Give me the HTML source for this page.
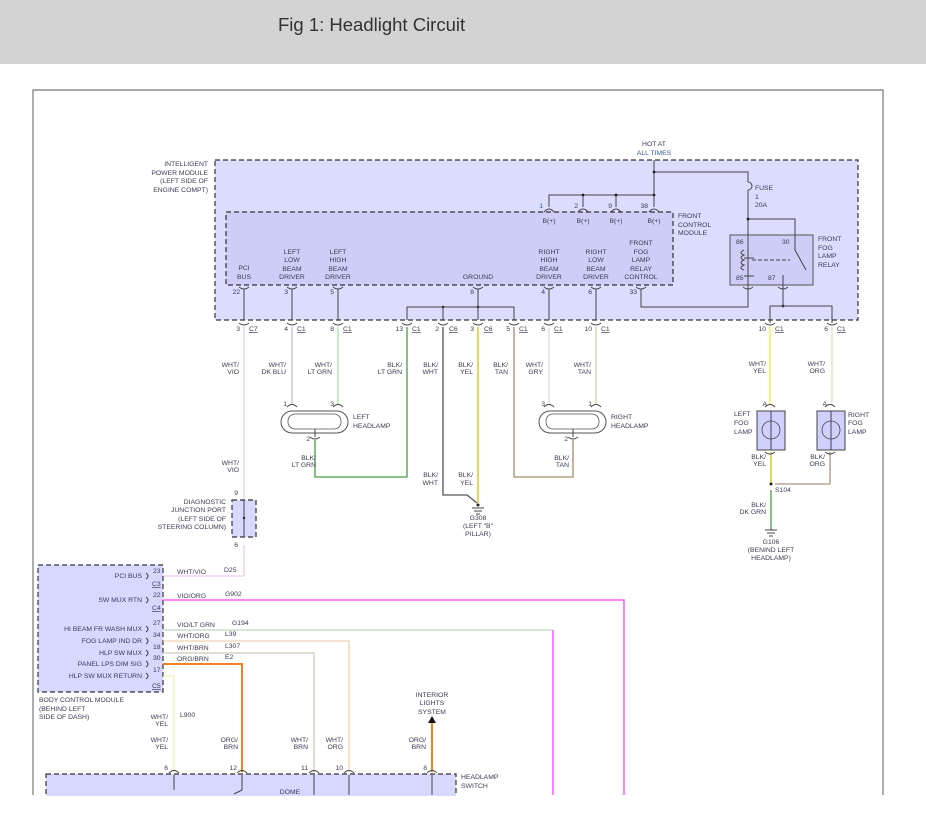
<!DOCTYPE html>
<html><head><meta charset="utf-8"><style>
html,body{margin:0;padding:0;background:#fff;width:926px;height:825px;overflow:hidden}
svg{display:block}
text{font-family:"Liberation Sans",sans-serif;font-size:6.8px;fill:#3a3a55}
.r{text-anchor:end}.c{text-anchor:middle}
.u{text-decoration:underline}
.d{stroke:#333;stroke-dasharray:5,3;stroke-width:1.2}
.w{fill:none;stroke-width:1.3}
.k{fill:none;stroke:#444;stroke-width:1}
</style></head><body>
<svg width="926" height="825" viewBox="0 0 926 825" xmlns="http://www.w3.org/2000/svg">
<rect x="0" y="0" width="926" height="64" fill="#d3d3d3"/>
<text x="278" y="31" style="font-size:18.5px;fill:#333">Fig 1: Headlight Circuit</text>
<path d="M33 795 V90 H883 V795" fill="none" stroke="#777" stroke-width="1.2"/>

<!-- IPM -->
<rect x="215" y="160" width="643" height="160" style="fill:#dcdcff" class="d"/>
<rect x="226" y="212" width="447" height="73" style="fill:#cdcdf8" class="d"/>
<rect x="730" y="235" width="83" height="50" fill="#cdcdf8" stroke="#555" stroke-width="1"/>
<text x="208" y="166" class="r">INTELLIGENT</text><text x="208" y="175" class="r">POWER MODULE</text><text x="208" y="183" class="r">(LEFT SIDE OF</text><text x="208" y="192" class="r">ENGINE COMPT)</text>
<text x="654" y="146" class="c">HOT AT</text><text x="654" y="155" class="c" style="fill:#3355aa">ALL TIMES</text>
<path class="k" d="M654 160 V207 M549 207 V195 H654 M583 195 V207 M616 195 V207 M654 172 H748 V182 M748 190 V235 M748 219 H795 V235"/>
<path class="k" d="M748 182 a3 3 0 0 1 0 8"/>
<g fill="#222"><circle cx="654" cy="172" r="1.4"/><circle cx="654" cy="195" r="1.4"/><circle cx="583" cy="195" r="1.4"/><circle cx="616" cy="195" r="1.4"/><circle cx="748" cy="219" r="1.4"/><circle cx="783" cy="306" r="1.4"/><circle cx="478" cy="307" r="1.4"/><circle cx="443" cy="307" r="1.4"/></g>
<text x="755" y="190">FUSE</text><text x="755" y="199">1</text><text x="755" y="207">20A</text>
<text x="543" y="208" class="r" style="fill:#3355aa">1</text><text x="578" y="208" class="r">2</text><text x="612" y="208" class="r">9</text><text x="648" y="208" class="r">38</text>
<path class="k" d="M544 212 q5 -6 10 0 M578 212 q5 -6 10 0 M611 212 q5 -6 10 0 M649 212 q5 -6 10 0"/>
<text x="549" y="223" class="c">B(+)</text><text x="583" y="223" class="c">B(+)</text><text x="616" y="223" class="c">B(+)</text><text x="654" y="223" class="c">B(+)</text>
<text x="678" y="218">FRONT</text><text x="678" y="227">CONTROL</text><text x="678" y="235">MODULE</text>
<!-- relay -->
<path class="k" d="M748 235 V285 M795 235 V250 L806 270 M744 258 h10 M744 276 h10"/>
<path class="k" d="M744 250 q-6 3 0 5 q-6 3 0 5 q-6 3 0 5 q-6 3 0 5"/>
<path class="k" d="M752 260 H790" stroke-dasharray="4,2"/>
<path class="k" d="M783 275 V306 M641 289 V307 H748 V285 M770 306 H832 V323 M770 306 V323"/>
<text x="736" y="244">86</text><text x="782" y="244">30</text><text x="736" y="280">85</text><text x="768" y="280">87</text>
<text x="818" y="241">FRONT</text><text x="818" y="250">FOG</text><text x="818" y="258">LAMP</text><text x="818" y="267">RELAY</text>
<!-- inner labels -->
<text x="244" y="270" class="c">PCI</text><text x="244" y="279" class="c">BUS</text>
<text x="292" y="254" class="c">LEFT</text><text x="292" y="262" class="c">LOW</text><text x="292" y="271" class="c">BEAM</text><text x="292" y="279" class="c">DRIVER</text>
<text x="338" y="254" class="c">LEFT</text><text x="338" y="262" class="c">HIGH</text><text x="338" y="271" class="c">BEAM</text><text x="338" y="279" class="c">DRIVER</text>
<text x="478" y="279" class="c">GROUND</text>
<text x="549" y="254" class="c">RIGHT</text><text x="549" y="262" class="c">HIGH</text><text x="549" y="271" class="c">BEAM</text><text x="549" y="279" class="c">DRIVER</text>
<text x="596" y="254" class="c">RIGHT</text><text x="596" y="262" class="c">LOW</text><text x="596" y="271" class="c">BEAM</text><text x="596" y="279" class="c">DRIVER</text>
<text x="641" y="245" class="c">FRONT</text><text x="641" y="254" class="c">FOG</text><text x="641" y="262" class="c">LAMP</text><text x="641" y="271" class="c">RELAY</text><text x="641" y="279" class="c">CONTROL</text>
<text x="240" y="294" class="r">22</text><text x="288" y="294" class="r">3</text><text x="334" y="294" class="r">5</text><text x="474" y="294" class="r">8</text><text x="545" y="294" class="r">4</text><text x="592" y="294" class="r">6</text><text x="637" y="294" class="r">33</text>
<path class="k" d="M244 289 V320 M292 289 V320 M338 289 V320 M478 289 V320 M549 289 V320 M596 289 V320 M407 320 V307 H514 V320 M443 307 V320"/>
<path class="k" d="M239 287 q5 4 10 0 M287 287 q5 4 10 0 M333 287 q5 4 10 0 M473 287 q5 4 10 0 M544 287 q5 4 10 0 M591 287 q5 4 10 0 M636 287 q5 4 10 0 M743 287 q5 4 10 0 M778 287 q5 4 10 0"/>
<path class="k" d="M239 323 q5 4 10 0 M287 323 q5 4 10 0 M333 323 q5 4 10 0 M402 323 q5 4 10 0 M438 323 q5 4 10 0 M473 323 q5 4 10 0 M509 323 q5 4 10 0 M544 323 q5 4 10 0 M591 323 q5 4 10 0 M765 323 q5 4 10 0 M827 323 q5 4 10 0"/>
<text x="240" y="331" class="r">3</text><text x="249" y="331" class="u">C7</text>
<text x="288" y="331" class="r">4</text><text x="297" y="331" class="u">C1</text>
<text x="334" y="331" class="r">8</text><text x="343" y="331" class="u">C1</text>
<text x="403" y="331" class="r">13</text><text x="412" y="331" class="u">C1</text>
<text x="439" y="331" class="r">2</text><text x="449" y="331" class="u">C6</text>
<text x="474" y="331" class="r">3</text><text x="484" y="331" class="u">C6</text>
<text x="510" y="331" class="r">5</text><text x="519" y="331" class="u">C1</text>
<text x="545" y="331" class="r">6</text><text x="554" y="331" class="u">C1</text>
<text x="592" y="331" class="r">10</text><text x="601" y="331" class="u">C1</text>
<text x="766" y="331" class="r">10</text><text x="775" y="331" class="u">C1</text>
<text x="828" y="331" class="r">6</text><text x="837" y="331" class="u">C1</text>

<!-- wires below -->
<path class="w" stroke="#f0c8f0" d="M244 327 V500 M244 545 V576 H163"/>
<path class="w" stroke="#c4c4dc" d="M292 327 V405"/>
<path class="w" stroke="#a0e8a0" d="M338 327 V405"/>
<path class="w" stroke="#40a040" d="M407 327 V477 H315 V440"/>
<path class="w" stroke="#555" d="M443 327 V495 H467 L477 503"/>
<path class="w" stroke="#c8c800" d="M478 327 V503"/>
<path class="w" stroke="#a08c70" d="M514 327 V477 H573 V440"/>
<path class="w" stroke="#dcdcdc" d="M549 327 V405"/>
<path class="w" stroke="#e0c8a0" d="M596 327 V405"/>
<path class="w" stroke="#f0f040" d="M770 327 V405"/>
<path class="w" stroke="#f0d8c0" d="M832 327 V405"/>
<path class="w" stroke="#c8c800" d="M771 452 V484"/>
<path class="w" stroke="#a89880" d="M830 452 V484 H775"/>
<path class="w" stroke="#40a040" d="M771 490 V527"/>
<circle cx="771" cy="484" r="1.5" fill="#222"/>
<path class="k" d="M765 530 h12 M767 533 h8 M769 536 h4 M771 527 v3"/>
<path class="k" d="M472 508 h12 M474 511 h8 M476 514 h4"/><circle cx="478" cy="505" r="1.5" fill="#222"/>

<text x="239" y="367" class="r">WHT/</text><text x="239" y="374" class="r">VIO</text>
<text x="286" y="367" class="r">WHT/</text><text x="286" y="374" class="r">DK BLU</text>
<text x="332" y="367" class="r">WHT/</text><text x="332" y="374" class="r">LT GRN</text>
<text x="402" y="367" class="r">BLK/</text><text x="402" y="374" class="r">LT GRN</text>
<text x="438" y="367" class="r">BLK/</text><text x="438" y="374" class="r">WHT</text>
<text x="473" y="367" class="r">BLK/</text><text x="473" y="374" class="r">YEL</text>
<text x="508" y="367" class="r">BLK/</text><text x="508" y="374" class="r">TAN</text>
<text x="543" y="367" class="r">WHT/</text><text x="543" y="374" class="r">GRY</text>
<text x="591" y="367" class="r">WHT/</text><text x="591" y="374" class="r">TAN</text>
<text x="766" y="366" class="r">WHT/</text><text x="766" y="373" class="r">YEL</text>
<text x="825" y="366" class="r">WHT/</text><text x="825" y="373" class="r">ORG</text>

<!-- headlamps -->
<rect x="281" y="411" width="67" height="22" rx="11" fill="#fff" stroke="#555"/>
<rect x="288" y="414" width="53" height="15" rx="7" fill="none" stroke="#555" stroke-width=".8"/>
<rect x="539" y="411" width="67" height="22" rx="11" fill="#fff" stroke="#555"/>
<rect x="546" y="414" width="53" height="15" rx="7" fill="none" stroke="#555" stroke-width=".8"/>
<path class="k" d="M287 407 q5 -5 10 0 M333 407 q5 -5 10 0 M544 407 q5 -5 10 0 M591 407 q5 -5 10 0 M310 437 q5 4 10 0 M568 437 q5 4 10 0 M315 429 V437 M573 429 V437"/>
<text x="287" y="406" class="r">1</text><text x="334" y="406" class="r">3</text><text x="310" y="441" class="r">2</text>
<text x="545" y="406" class="r">3</text><text x="592" y="406" class="r">1</text><text x="568" y="441" class="r">2</text>
<text x="353" y="419">LEFT</text><text x="353" y="428">HEADLAMP</text>
<text x="611" y="419">RIGHT</text><text x="611" y="428">HEADLAMP</text>
<text x="316" y="460" class="r">BLK/</text><text x="316" y="467" class="r">LT GRN</text>
<text x="239" y="465" class="r">WHT/</text><text x="239" y="472" class="r">VIO</text>
<text x="438" y="477" class="r">BLK/</text><text x="438" y="485" class="r">WHT</text>
<text x="473" y="477" class="r">BLK/</text><text x="473" y="485" class="r">YEL</text>
<text x="569" y="460" class="r">BLK/</text><text x="569" y="467" class="r">TAN</text>
<text x="478" y="520" class="c">G308</text><text x="478" y="528" class="c">(LEFT "B"</text><text x="478" y="536" class="c">PILLAR)</text>

<!-- diag port -->
<rect x="232" y="500" width="24" height="37" style="fill:#d8d8ff" class="d"/>
<path class="k" d="M244 500 V537"/><circle cx="244" cy="518" r="1.2" fill="#222"/>
<text x="238" y="495" class="r">9</text><text x="238" y="547" class="r">6</text>
<text x="226" y="504" class="r">DIAGNOSTIC</text><text x="226" y="512" class="r">JUNCTION PORT</text><text x="226" y="521" class="r">(LEFT SIDE OF</text><text x="226" y="529" class="r">STEERING COLUMN)</text>

<!-- fog lamps -->
<rect x="757" y="411" width="28" height="39" fill="#d0d0ff" stroke="#444"/>
<rect x="817" y="411" width="28" height="39" fill="#d0d0ff" stroke="#444"/>
<circle cx="771" cy="430" r="9" fill="none" stroke="#444" stroke-width=".8"/><circle cx="831" cy="430" r="9" fill="none" stroke="#444" stroke-width=".8"/>
<path class="k" d="M771 411 V450 M831 411 V450 M765 407 q5 -5 10 0 M825 407 q5 -5 10 0 M765 452 q5 4 10 0 M825 452 q5 4 10 0"/>
<text x="767" y="406" class="r">A</text><text x="827" y="406" class="r">A</text>
<text x="734" y="416">LEFT</text><text x="734" y="425">FOG</text><text x="734" y="434">LAMP</text>
<text x="848" y="417">RIGHT</text><text x="848" y="425">FOG</text><text x="848" y="434">LAMP</text>
<text x="766" y="459" class="r">BLK/</text><text x="766" y="466" class="r">YEL</text>
<text x="825" y="459" class="r">BLK/</text><text x="825" y="466" class="r">ORG</text>
<text x="775" y="492">S104</text>
<text x="766" y="507" class="r">BLK/</text><text x="766" y="514" class="r">DK GRN</text>
<text x="771" y="544" class="c">G106</text><text x="771" y="552" class="c">(BENIND LEFT</text><text x="771" y="560" class="c">HEADLAMP)</text>

<!-- BCM -->
<rect x="38" y="565" width="125" height="127" style="fill:#d8d8ff" class="d"/>
<text x="142" y="578" class="r">PCI BUS</text><text x="142" y="602" class="r">SW MUX RTN</text><text x="142" y="631" class="r">HI BEAM FR WASH MUX</text><text x="142" y="643" class="r">FOG LAMP IND DR</text><text x="142" y="655" class="r">HLP SW MUX</text><text x="142" y="666" class="r">PANEL LPS DIM SIG</text><text x="142" y="678" class="r">HLP SW MUX RETURN</text>
<path class="k" d="M146 573 q4 3 0 6 M146 597 q4 3 0 6 M146 626 q4 3 0 6 M146 638 q4 3 0 6 M146 650 q4 3 0 6 M146 661 q4 3 0 6 M146 673 q4 3 0 6"/>
<text x="153" y="573">23</text><text x="153" y="597">22</text><text x="153" y="625">27</text><text x="153" y="637">34</text><text x="153" y="649">18</text><text x="153" y="660">30</text><text x="153" y="672">17</text>
<text x="152" y="586" class="u">C3</text><text x="152" y="610" class="u">C4</text><text x="152" y="688" class="u">C5</text>
<path class="w" stroke="#ff40ff" d="M163 600 H624 V795"/>
<path class="w" stroke="#c0d8c0" d="M163 630 H553"/><path class="w" stroke="#ff40ff" d="M553 630 V795"/>
<path class="w" stroke="#f0d0b0" d="M163 641 H349 V772"/>
<path class="w" stroke="#d0c8b8" d="M163 653 H314 V772"/>
<path stroke="#f08020" stroke-width="2" fill="none" d="M163 664 H242 V772"/>
<path class="w" stroke="#f0f0b0" d="M163 676 H174 V772"/>
<path stroke="#f08020" stroke-width="2" fill="none" d="M432 772 V722"/>
<path d="M428 723 L432 716 L436 723 Z" fill="#111"/>
<text x="177" y="574">WHT/VIO</text><text x="224" y="572">D25</text>
<text x="177" y="598">VIO/ORG</text><text x="225" y="596">G902</text>
<text x="177" y="627">VIO/LT GRN</text><text x="232" y="625">G194</text>
<text x="177" y="638">WHT/ORG</text><text x="225" y="636">L39</text>
<text x="177" y="650">WHT/BRN</text><text x="225" y="648">L307</text>
<text x="177" y="661">ORG/BRN</text><text x="225" y="659">E2</text>
<text x="39" y="702">BODY CONTROL MODULE</text><text x="39" y="711">(BEHIND LEFT</text><text x="39" y="719">SIDE OF DASH)</text>
<text x="168" y="719" class="r">WHT/</text><text x="168" y="726" class="r">YEL</text><text x="180" y="717">L900</text>
<text x="168" y="742" class="r">WHT/</text><text x="168" y="749" class="r">YEL</text>
<text x="238" y="742" class="r">ORG/</text><text x="238" y="749" class="r">BRN</text>
<text x="308" y="742" class="r">WHT/</text><text x="308" y="749" class="r">BRN</text>
<text x="343" y="742" class="r">WHT/</text><text x="343" y="749" class="r">ORG</text>
<text x="426" y="742" class="r">ORG/</text><text x="426" y="749" class="r">BRN</text>
<text x="432" y="697" class="c">INTERIOR</text><text x="432" y="705" class="c">LIGHTS</text><text x="432" y="714" class="c">SYSTEM</text>
<text x="168" y="770" class="r">6</text><text x="237" y="770" class="r">12</text><text x="308" y="770" class="r">11</text><text x="343" y="770" class="r">10</text><text x="427" y="770" class="r">8</text>
<!-- headlamp switch -->
<rect x="46" y="774" width="410" height="40" style="fill:#d8d8ff" class="d"/>
<path class="k" d="M169 773 q5 -5 10 0 M237 773 q5 -5 10 0 M309 773 q5 -5 10 0 M344 773 q5 -5 10 0 M427 773 q5 -5 10 0 M174 775 V790 M242 775 V790 M314 775 V795 M349 775 V795 M432 775 V795 M242 790 L234 794"/>
<rect x="0" y="796" width="926" height="29" fill="#fff"/>
<text x="461" y="779">HEADLAMP</text><text x="461" y="788">SWITCH</text>
<text x="290" y="794" class="c">DOME</text>
</svg>
</body></html>
